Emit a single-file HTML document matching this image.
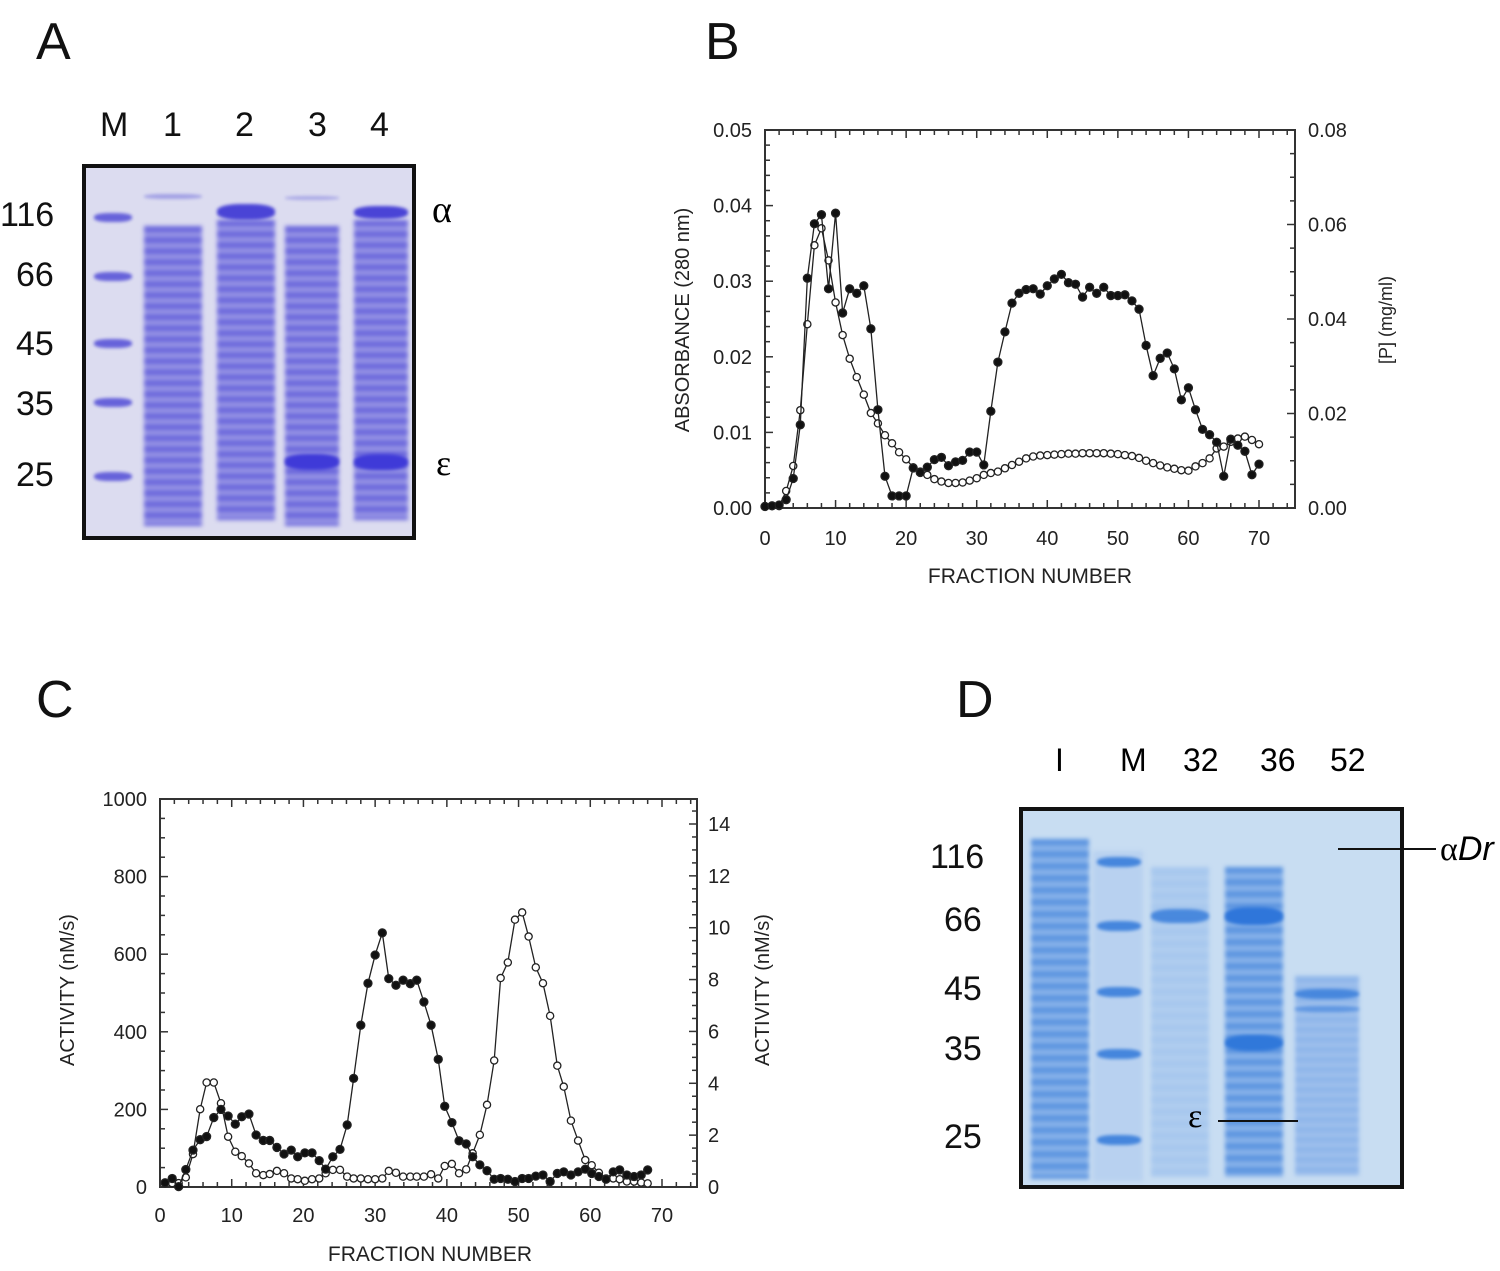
<!DOCTYPE html>
<html><head><meta charset="utf-8">
<style>
body{margin:0;background:#fff;width:1500px;height:1271px;position:relative;overflow:hidden;font-family:"Liberation Sans",sans-serif;}
.abs{position:absolute;}
.plab{font-size:52px;color:#111;}
.glab{font-size:34px;color:#111;}
.gel{position:absolute;border:4px solid #111;box-sizing:border-box;overflow:hidden;}
.lane{position:absolute;}
.band{position:absolute;border-radius:40%;filter:blur(1.5px);}
</style></head><body>
<div class="abs plab" style="left:36px;top:12px">A</div>
<div class="abs plab" style="left:705px;top:12px">B</div>
<div class="abs plab" style="left:36px;top:670px">C</div>
<div class="abs plab" style="left:956px;top:670px">D</div>

<!-- Gel A -->
<div>
<div class="abs glab" style="left:100px;top:106px">M</div>
<div class="abs glab" style="left:163px;top:106px">1</div>
<div class="abs glab" style="left:235px;top:106px">2</div>
<div class="abs glab" style="left:308px;top:106px">3</div>
<div class="abs glab" style="left:370px;top:106px">4</div>
</div>
<div>
<div class="abs glab" style="left:0px;top:196px">116</div>
<div class="abs glab" style="left:16px;top:256px">66</div>
<div class="abs glab" style="left:16px;top:325px">45</div>
<div class="abs glab" style="left:16px;top:385px">35</div>
<div class="abs glab" style="left:16px;top:456px">25</div>
</div>
<div class="abs" style="left:432px;top:188px;font-family:'Liberation Serif',serif;font-size:38px">α</div>
<div class="abs" style="left:436px;top:442px;font-family:'Liberation Serif',serif;font-size:36px">ε</div>
<div class="gel" id="gelA" style="left:82px;top:164px;width:334px;height:376px;background:#dcdcf0"></div>

<!-- Gel D -->
<div>
<div class="abs" style="left:1055px;top:742px;font-size:32px">I</div>
<div class="abs" style="left:1120px;top:742px;font-size:32px">M</div>
<div class="abs" style="left:1183px;top:742px;font-size:32px">32</div>
<div class="abs" style="left:1260px;top:742px;font-size:32px">36</div>
<div class="abs" style="left:1330px;top:742px;font-size:32px">52</div>
</div>
<div>
<div class="abs glab" style="left:930px;top:838px">116</div>
<div class="abs glab" style="left:944px;top:901px">66</div>
<div class="abs glab" style="left:944px;top:970px">45</div>
<div class="abs glab" style="left:944px;top:1030px">35</div>
<div class="abs glab" style="left:944px;top:1118px">25</div>
</div>
<div class="gel" id="gelD" style="left:1019px;top:807px;width:385px;height:382px;background:#c8ddf2"></div>
<div class="abs" style="left:1338px;top:848px;width:98px;height:2px;background:#111"></div>
<div class="abs" style="left:1440px;top:830px;font-size:34px"><span style="font-family:'Liberation Serif',serif">α</span><i>Dr</i></div>
<div class="abs" style="left:1218px;top:1120px;width:80px;height:2px;background:#111"></div>
<div class="abs" style="left:1188px;top:1098px;font-size:34px;font-family:'Liberation Serif',serif">ε</div>

<svg id="chartB" class="abs" style="left:0;top:0" width="1500" height="1271"></svg>

<script>
// ---------- Panel B data ----------
const bFractions = [0,1,2,3,4,5,6,7,8,9,10,11,12,13,14,15,16,17,18,19,20,21,22,23,24,25,26,27,28,29,30,31,32,33,34,35,36,37,38,39,40,41,42,43,44,45,46,47,48,49,50,51,52,53,54,55,56,57,58,59,60,61,62,63,64,65,66,67,68,69,70];
const bAbsorbance = [0.0002,0.0003,0.0004,0.0011,0.0039,0.011,0.0304,0.0376,0.0388,0.029,0.039,0.0258,0.029,0.0284,0.0294,0.0237,0.013,0.0042,0.0016,0.0016,0.0016,0.0053,0.0047,0.0054,0.0064,0.0067,0.0056,0.0061,0.0063,0.0074,0.0074,0.0057,0.0128,0.0193,0.0233,0.0271,0.0284,0.0289,0.029,0.0283,0.0294,0.0303,0.0309,0.0298,0.0296,0.0279,0.0292,0.0284,0.0292,0.0281,0.0281,0.0282,0.0274,0.0263,0.0215,0.0175,0.0198,0.0205,0.0184,0.0143,0.0159,0.013,0.0104,0.0097,0.0087,0.0042,0.0091,0.0083,0.0075,0.0044,0.0058];
const bProtein = [0.0004,0.0004,0.0004,0.0036,0.0089,0.0207,0.0389,0.0556,0.0592,0.0524,0.0435,0.0366,0.0316,0.0277,0.024,0.0201,0.0179,0.0154,0.0137,0.0118,0.0103,0.0086,0.0077,0.007,0.0061,0.0056,0.0053,0.0053,0.0054,0.0058,0.0063,0.007,0.0074,0.0077,0.0084,0.0091,0.0098,0.0105,0.0109,0.0111,0.0112,0.0113,0.0114,0.0115,0.0115,0.0116,0.0116,0.0116,0.0116,0.0115,0.0114,0.0112,0.011,0.0106,0.01,0.0095,0.009,0.0086,0.0083,0.008,0.0079,0.0088,0.0095,0.0105,0.0126,0.013,0.014,0.0147,0.0151,0.0144,0.0135];
const bXTicks = [0,10,20,30,40,50,60,70];
const bYLeftTicks = ["0.00","0.01","0.02","0.03","0.04","0.05"];
const bYRightTicks = ["0.00","0.02","0.04","0.06","0.08"];

// ---------- Panel C data ----------
const cFractions = [0.7,1.7,2.6,3.6,4.6,5.6,6.5,7.5,8.5,9.5,10.5,11.4,12.4,13.4,14.4,15.3,16.3,17.3,18.3,19.2,20.2,21.2,22.2,23.1,24.1,25.1,26.1,27.0,28.0,29.0,30.0,31.0,31.9,32.9,33.9,34.9,35.8,36.8,37.8,38.8,39.7,40.7,41.7,42.7,43.6,44.6,45.6,46.6,47.5,48.5,49.5,50.5,51.4,52.4,53.4,54.4,55.4,56.3,57.3,58.3,59.3,60.2,61.2,62.2,63.2,64.1,65.1,66.1,67.1,68.0];
const cActivityFilled = [11,22,1,45,95,122,130,179,200,183,162,181,188,134,120,120,102,85,95,78,88,88,68,46,78,97,160,280,417,525,598,655,537,520,533,524,533,477,417,329,208,166,119,111,78,57,42,20,22,20,14,22,22,28,31,14,35,39,31,39,46,35,27,20,39,44,31,27,31,44];
const cActivityOpen = [0.15,0.15,0.15,0.37,1.27,3.0,4.03,4.03,3.23,1.94,1.36,1.19,0.91,0.53,0.46,0.5,0.62,0.53,0.33,0.3,0.24,0.3,0.33,0.53,0.66,0.66,0.4,0.33,0.33,0.3,0.3,0.33,0.62,0.55,0.4,0.4,0.4,0.4,0.49,0.33,0.81,0.89,0.53,0.68,1.3,2.01,3.17,4.88,8.06,8.66,10.31,10.59,9.66,8.47,7.86,6.6,4.68,3.87,2.56,1.79,1.04,0.84,0.55,0.33,0.33,0.3,0.21,0.21,0.17,0.14];
const cXTicks = [0,10,20,30,40,50,60,70];
const cYLeftTicks = [0,200,400,600,800,1000];
const cYRightTicks = [0,2,4,6,8,10,12,14];

const NS='http://www.w3.org/2000/svg';
const svg=document.getElementById('chartB');
function mk(tag,attrs,parent){const e=document.createElementNS(NS,tag);for(const k in attrs)e.setAttribute(k,attrs[k]);(parent||svg).appendChild(e);return e;}
function txt(s,x,y,anchor,size,parent,rot){const t=mk('text',{x:x,y:y,'text-anchor':anchor,'font-size':size,'font-family':'Liberation Sans, sans-serif',fill:'#222'},parent);if(rot)t.setAttribute('transform','rotate(-90 '+x+' '+y+')');t.textContent=s;return t;}

// ---- Panel B ----
const gB=mk('g',{});


const B={l:765,r:1295,t:130,b:508};
const bx=v=>B.l+v*(1259-765)/70;
const byL=v=>B.b-v*(B.b-B.t)/0.05;
const byR=v=>B.b-v*(B.b-B.t)/0.08;
mk('rect',{x:B.l,y:B.t,width:B.r-B.l,height:B.b-B.t,fill:'none',stroke:'#333','stroke-width':2},gB);
for(let f=0;f<=74;f+=2){const x=bx(f);if(x>B.r)break;const L=(f%10===0)?8:5;mk('line',{x1:x,y1:B.b,x2:x,y2:B.b-L,stroke:'#333','stroke-width':1.5},gB);mk('line',{x1:x,y1:B.t,x2:x,y2:B.t+L,stroke:'#333','stroke-width':1.5},gB);}
for(let i=0;i<=25;i++){const v=i*0.002;const y=byL(v);const L=(i%5===0)?8:5;mk('line',{x1:B.l,y1:y,x2:B.l+L,y2:y,stroke:'#333','stroke-width':1.5},gB);}
for(let i=0;i<=16;i++){const y=byR(i*0.005);const L=(i%4===0)?8:5;mk('line',{x1:B.r,y1:y,x2:B.r-L,y2:y,stroke:'#333','stroke-width':1.5},gB);}
bXTicks.forEach(v=>txt(String(v),bx(v),545,'middle',20,gB));
bYLeftTicks.forEach(s=>txt(s,752,byL(parseFloat(s))+7,'end',20,gB));
bYRightTicks.forEach(s=>txt(s,1308,byR(parseFloat(s))+7,'start',20,gB));
txt('FRACTION NUMBER',1030,583,'middle',21,gB);
txt('ABSORBANCE    (280 nm)',689,320,'middle',20,gB,true);
txt('[P]    (mg/ml)',1392,320,'middle',18,gB,true);
function series(g,xs,ys,fx,fy,filled,name,r){
  const pts=xs.map((x,i)=>fx(x)+','+fy(ys[i])).join(' ');
  const pl=mk('polyline',{points:pts,fill:'none',stroke:'#222','stroke-width':1.3},g);
  
  
  xs.forEach((x,i)=>{const c=mk('circle',{cx:fx(x),cy:fy(ys[i]),r:r,fill:filled?'#111':'#fff',stroke:'#222','stroke-width':1.3},g);
    
    });
}
series(gB,bFractions,bProtein,bx,byR,false,'protein-concentration',3.6);
series(gB,bFractions,bAbsorbance,bx,byL,true,'absorbance-280',4);

// ---- Panel C ----
const gC=mk('g',{});


const C={l:160,r:697,t:799,b:1187};
const cx=v=>C.l+v*(662-160)/70;
const cyL=v=>C.b-v*(C.b-C.t)/1000;
const cyR=v=>C.b-v*(1187-824)/14;
mk('rect',{x:C.l,y:C.t,width:C.r-C.l,height:C.b-C.t,fill:'none',stroke:'#333','stroke-width':2},gC);
for(let f=0;f<=74;f+=2){const x=cx(f);if(x>C.r)break;const L=(f%10===0)?8:5;mk('line',{x1:x,y1:C.b,x2:x,y2:C.b-L,stroke:'#333','stroke-width':1.5},gC);mk('line',{x1:x,y1:C.t,x2:x,y2:C.t+L,stroke:'#333','stroke-width':1.5},gC);}
for(let v=0;v<=1000;v+=50){const y=cyL(v);const L=(v%200===0)?8:5;mk('line',{x1:C.l,y1:y,x2:C.l+L,y2:y,stroke:'#333','stroke-width':1.5},gC);}
for(let v=0;v<=15;v+=0.5){const y=cyR(v);if(y<C.t)break;const L=(v%2===0)?8:5;mk('line',{x1:C.r,y1:y,x2:C.r-L,y2:y,stroke:'#333','stroke-width':1.5},gC);}
cXTicks.forEach(v=>txt(String(v),cx(v),1222,'middle',20,gC));
cYLeftTicks.forEach(v=>txt(String(v),147,cyL(v)+7,'end',20,gC));
cYRightTicks.forEach(v=>txt(String(v),708,cyR(v)+7,'start',20,gC));
txt('FRACTION NUMBER',430,1261,'middle',21,gC);
txt('ACTIVITY    (nM/s)',74,990,'middle',20,gC,true);
txt('ACTIVITY    (nM/s)',769,990,'middle',20,gC,true);
series(gC,cFractions,cActivityOpen,cx,cyR,false,'activity-open',3.6);
series(gC,cFractions,cActivityFilled,cx,cyL,true,'activity-filled',4);

// ---- Gels ----
function band(gel,x,y,w,h,color,op){const d=document.createElement('div');d.className='band';
  d.style.cssText+='left:'+x+'px;top:'+y+'px;width:'+w+'px;height:'+h+'px;background:'+color+';opacity:'+op;gel.appendChild(d);
  
  }
function lane(gel,x,y,w,h,bg,name){const d=document.createElement('div');d.className='lane';
  d.style.cssText='left:'+x+'px;top:'+y+'px;width:'+w+'px;height:'+h+'px;background:'+bg+';filter:blur(2px)';gel.appendChild(d);
  
  }
const gA=document.getElementById('gelA');
const stripeA='repeating-linear-gradient(180deg,#6d69dc 0px,#6d69dc 5px,#9c9ae6 8px,#9c9ae6 11px)';
lane(gA,58,58,58,300,stripeA,'lane-1');
lane(gA,131,52,58,300,stripeA,'lane-2');
lane(gA,199,58,54,300,stripeA,'lane-3');
lane(gA,268,52,54,300,stripeA,'lane-4');
[217,276,343,402,476].forEach(y=>band(gA,8,y-172,38,9,'#5a55d8',0.9));
band(gA,131,36,58,16,'#4a44d6',1);band(gA,268,38,54,13,'#4a44d6',1);
band(gA,58,26,58,5,'#8a88e0',0.7);band(gA,199,28,54,4,'#8a88e0',0.6);
band(gA,199,286,54,16,'#3f3ad8',1);band(gA,268,286,54,16,'#3f3ad8',1);
const gD=document.getElementById('gelD');
const stripeD='repeating-linear-gradient(180deg,#5d95e0 0px,#5d95e0 5px,#8ab4ea 8px,#8ab4ea 12px)';
lane(gD,8,28,58,340,stripeD,'lane-i');
lane(gD,128,56,58,310,'repeating-linear-gradient(180deg,#a8c8ee 0px,#a8c8ee 8px,#bcd4f0 12px)','lane-32');
lane(gD,202,56,58,310,stripeD,'lane-36');
lane(gD,272,165,64,200,'repeating-linear-gradient(180deg,#8fb6ea 0px,#8fb6ea 6px,#b0cbef 10px)','lane-52');
lane(gD,70,40,50,330,'#b8d1f0','lane-m');
[858,922,988,1050,1136].forEach(y=>band(gD,74,y-812,44,10,'#3f82dc',0.95));
band(gD,128,98,58,14,'#3f82dc',0.9);band(gD,202,96,58,18,'#2f76da',1);
band(gD,202,224,58,16,'#3078da',1);band(gD,272,178,64,10,'#3f82dc',0.9);band(gD,272,195,64,6,'#5590e0',0.8);
</script>
</body></html>
